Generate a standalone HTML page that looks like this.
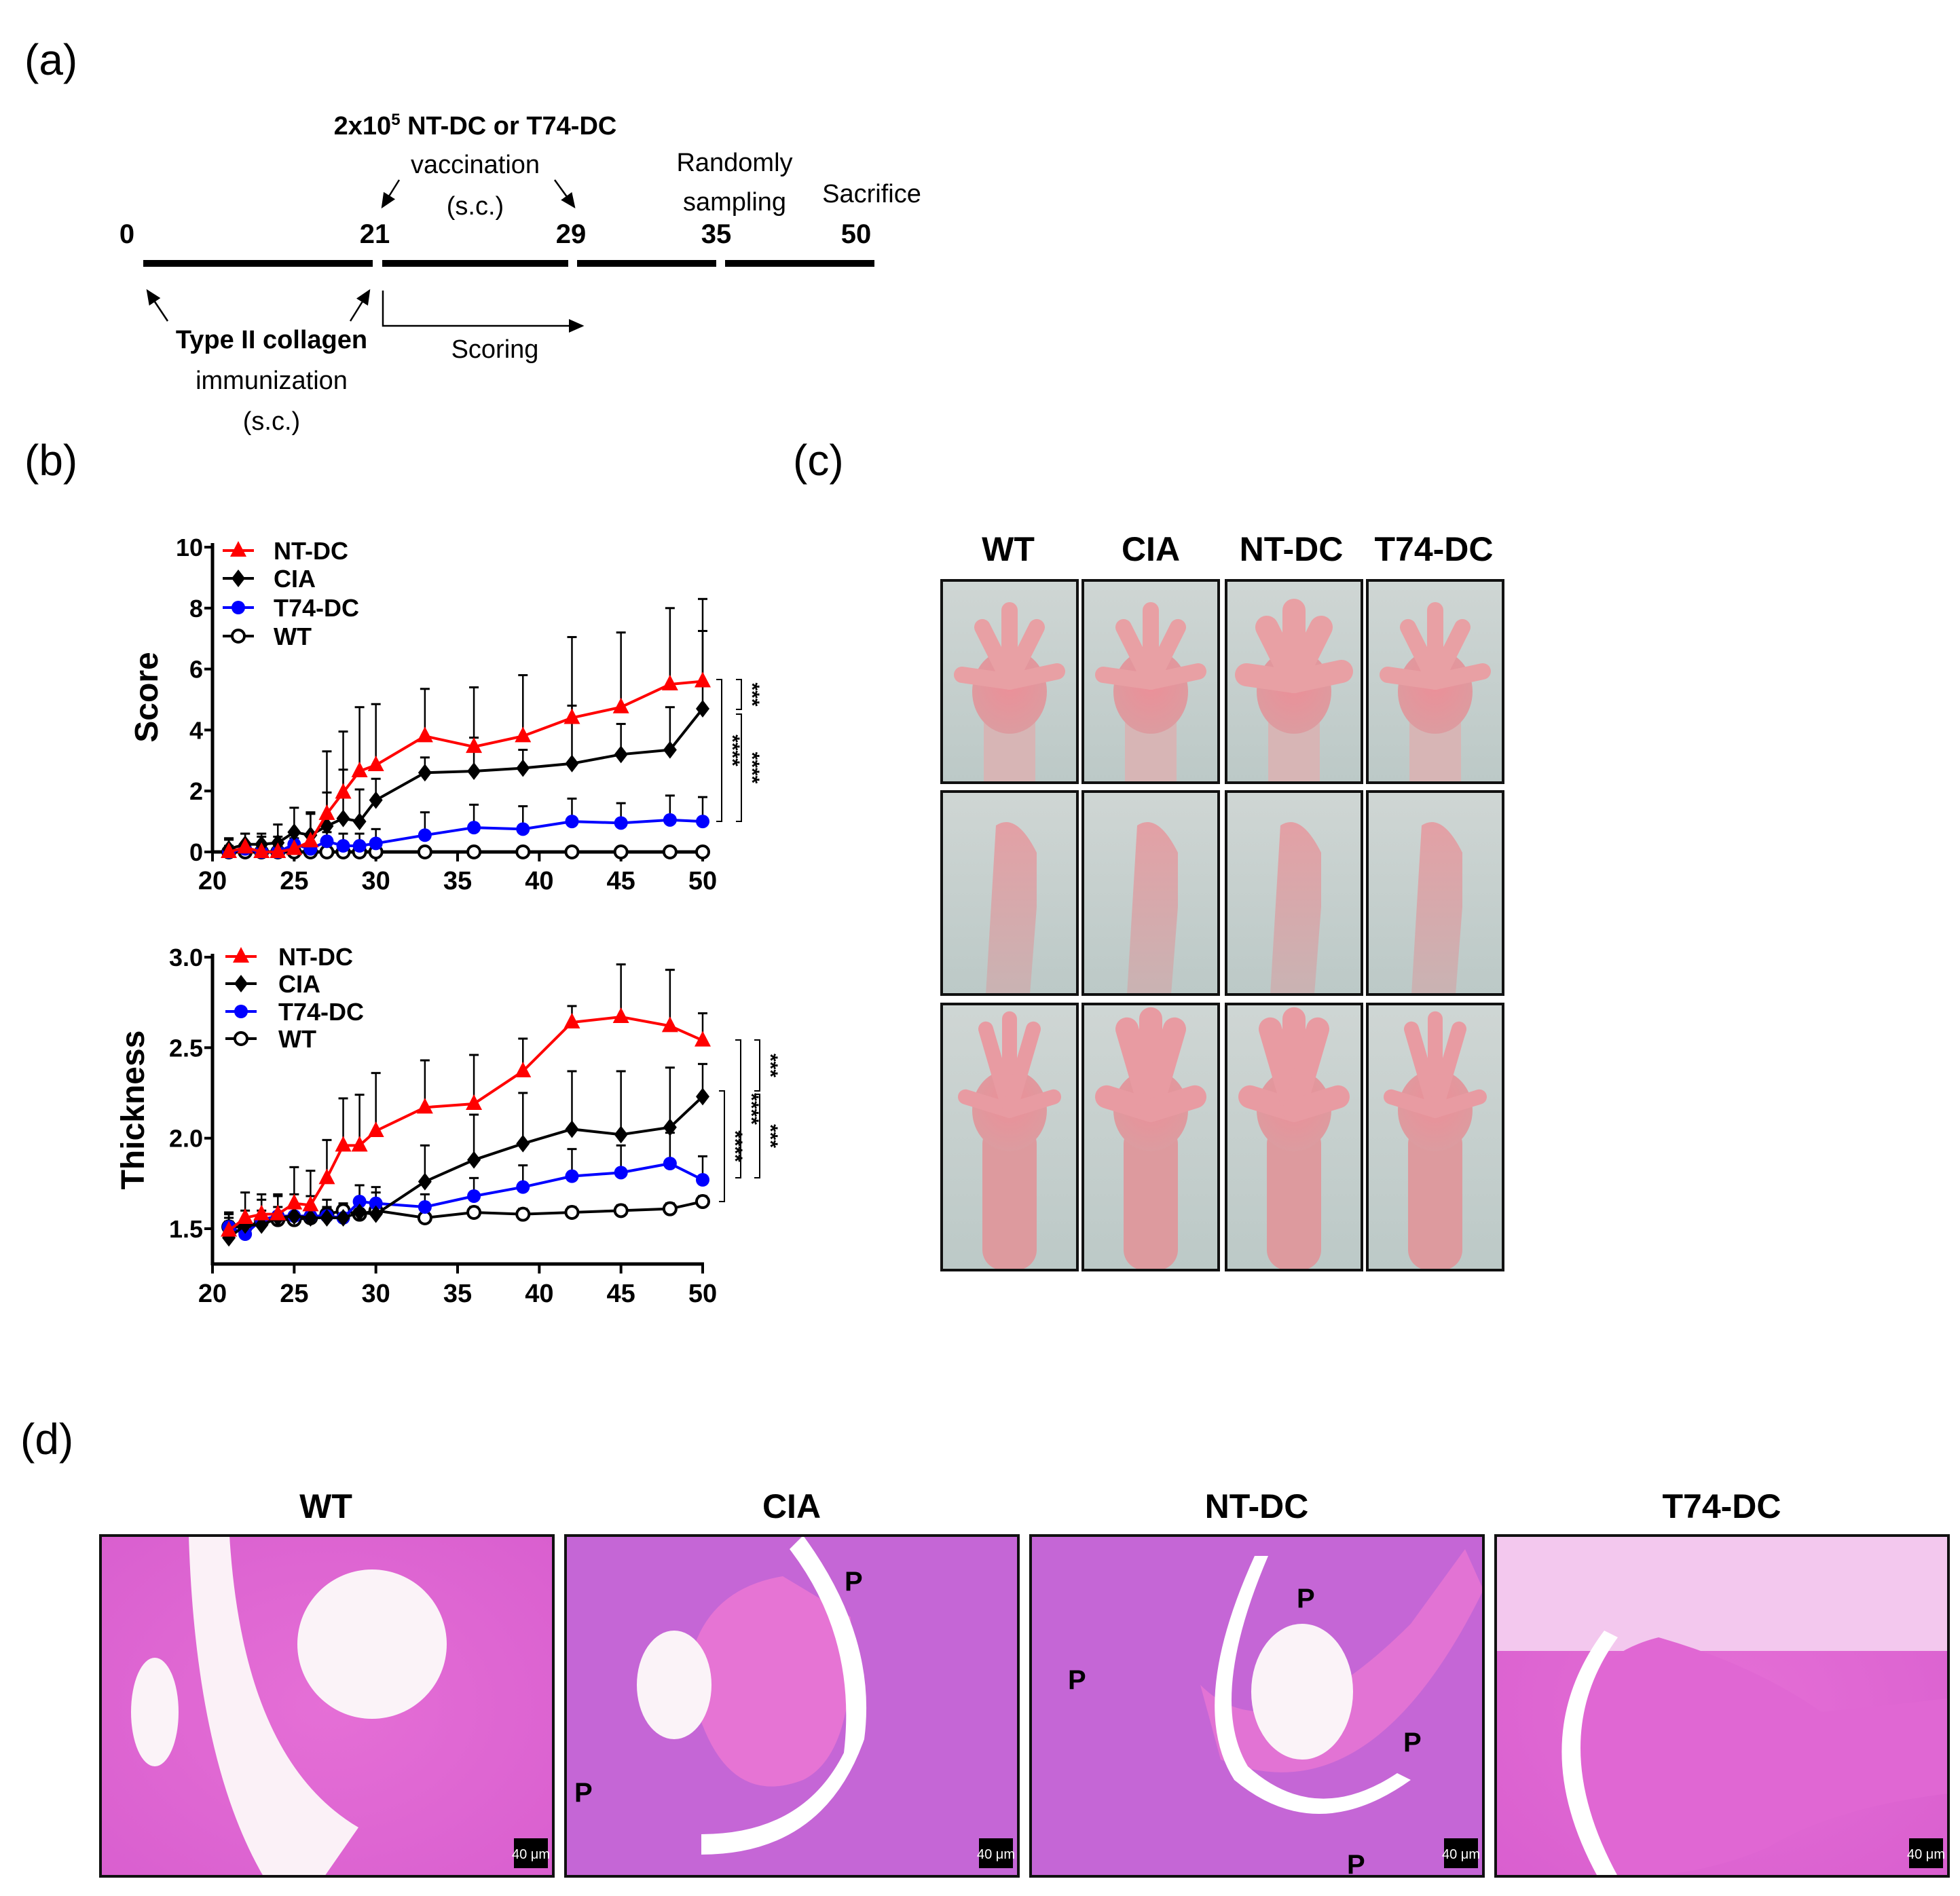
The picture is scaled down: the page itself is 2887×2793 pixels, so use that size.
<!DOCTYPE html>
<html><head><meta charset="utf-8"><style>
html,body{margin:0;padding:0;background:#fff}
svg{display:block}
text{font-family:"Liberation Sans",Arial,sans-serif}
</style></head><body>
<svg id="root" width="2887" height="2793" viewBox="0 0 2887 2793" xmlns="http://www.w3.org/2000/svg">
<defs>
<marker id="ah" markerWidth="10" markerHeight="10" refX="8" refY="5" orient="auto"><path d="M0,1 L9,5 L0,9 z" fill="#000"/></marker>
<linearGradient id="bgPhoto" x1="0" y1="0" x2="0" y2="1"><stop offset="0" stop-color="#cfd6d4"/><stop offset="1" stop-color="#bcc9c7"/></linearGradient>
<radialGradient id="pawG" cx="0.5" cy="0.4" r="0.6"><stop offset="0" stop-color="#ec8f98"/><stop offset="1" stop-color="#dc9ca0"/></radialGradient>
<linearGradient id="legG" x1="0" y1="0" x2="0" y2="1"><stop offset="0" stop-color="#e3a0a5"/><stop offset="1" stop-color="#c9b3b3"/></linearGradient>
<radialGradient id="heG" cx="0.5" cy="0.5" r="0.7"><stop offset="0" stop-color="#e56fd6"/><stop offset="1" stop-color="#d95fcf"/></radialGradient>
</defs>

<g>
<text x="36" y="110" font-size="64">(a)</text>
<text x="700" y="198" font-size="38" font-weight="bold" text-anchor="middle">2x10<tspan dy="-14" font-size="24">5</tspan><tspan dy="14"> NT-DC or T74-DC</tspan></text>
<text x="700" y="255" font-size="38" text-anchor="middle">vaccination</text>
<text x="700" y="316" font-size="38" text-anchor="middle">(s.c.)</text>
<line x1="588" y1="265" x2="563" y2="305" stroke="#000" stroke-width="2.5" marker-end="url(#ah)"/>
<line x1="817" y1="265" x2="846" y2="305" stroke="#000" stroke-width="2.5" marker-end="url(#ah)"/>
<text x="1082" y="252" font-size="38" text-anchor="middle">Randomly</text>
<text x="1082" y="310" font-size="38" text-anchor="middle">sampling</text>
<text x="1284" y="298" font-size="38" text-anchor="middle">Sacrifice</text>
<g font-size="40" font-weight="bold" text-anchor="middle">
<text x="187" y="358">0</text><text x="552" y="358">21</text><text x="841" y="358">29</text><text x="1055" y="358">35</text><text x="1261" y="358">50</text>
</g>
<g fill="#000">
<rect x="211" y="383" width="338" height="10"/><rect x="563" y="383" width="274" height="10"/><rect x="850" y="383" width="205" height="10"/><rect x="1068" y="383" width="220" height="10"/>
</g>
<line x1="247" y1="473" x2="217" y2="428" stroke="#000" stroke-width="2.5" marker-end="url(#ah)"/>
<line x1="516" y1="473" x2="544" y2="428" stroke="#000" stroke-width="2.5" marker-end="url(#ah)"/>
<polyline points="564,428 564,480 858,480" fill="none" stroke="#000" stroke-width="2.5" marker-end="url(#ah)"/>
<text x="400" y="513" font-size="38" font-weight="bold" text-anchor="middle">Type II collagen</text>
<text x="400" y="573" font-size="38" text-anchor="middle">immunization</text>
<text x="400" y="633" font-size="38" text-anchor="middle">(s.c.)</text>
<text x="729" y="527" font-size="38" text-anchor="middle">Scoring</text>
</g>

<text x="36" y="700" font-size="64">(b)</text>
<text x="1168" y="700" font-size="64">(c)</text>
<text x="30" y="2142" font-size="64">(d)</text>

<g id="scoreChart"></g>
<g id="thickChart"></g>
<g id="photos"></g>
<g id="histo"></g>
</svg>
<script>
const days = [21,22,23,24,25,26,27,28,29,30,33,36,39,42,45,48,50];
const xTicks = [20,25,30,35,40,45,50];
const scoreTicks = [0,2,4,6,8,10];
const thickTicks = [1.5,2.0,2.5,3.0];
const thickTickLabels = ["1.5","2.0","2.5","3.0"];
const groups = ["NT-DC","CIA","T74-DC","WT"];
const scoreNT  = [0,0.15,0,0,0.1,0.35,1.25,1.95,2.65,2.85,3.8,3.45,3.8,4.4,4.75,5.5,5.6];
const scoreCIA = [0.1,0.25,0.25,0.3,0.65,0.55,0.85,1.1,1.0,1.7,2.6,2.65,2.75,2.9,3.2,3.35,4.7];
const scoreT74 = [0,0.1,0,0,0.25,0.1,0.35,0.2,0.2,0.28,0.55,0.8,0.75,1.0,0.95,1.05,1.0];
const scoreWT  = [0,0,0,0,0,0,0,0,0,0,0,0,0,0,0,0,0];
const scoreNTsd  = [0.4,0.45,0.5,0.5,0.5,0.9,2.05,2.0,2.1,2.0,1.55,1.95,2.0,2.65,2.45,2.5,2.7];
const scoreCIAsd = [0.35,0.35,0.35,0.6,0.8,0.75,1.1,1.6,1.05,0.7,0.5,1.1,0.6,1.9,1.0,1.4,2.55];
const scoreT74sd = [0.2,0.2,0.2,0.2,0.2,0.2,0.3,0.4,0.4,0.47,0.75,0.75,0.75,0.75,0.65,0.8,0.8];
const scoreWTsd  = [0,0,0,0,0,0,0,0,0,0,0,0,0,0,0,0,0];
const thNT  = [1.49,1.56,1.58,1.58,1.64,1.63,1.78,1.96,1.96,2.04,2.17,2.19,2.37,2.64,2.67,2.62,2.54];
const thCIA = [1.45,1.52,1.52,1.56,1.57,1.56,1.56,1.56,1.59,1.58,1.76,1.88,1.97,2.05,2.02,2.06,2.23];
const thT74 = [1.51,1.47,1.55,1.57,1.57,1.57,1.57,1.56,1.65,1.64,1.62,1.68,1.73,1.79,1.81,1.86,1.77];
const thWT  = [1.51,1.51,1.54,1.55,1.55,1.56,1.58,1.60,1.58,1.60,1.56,1.59,1.58,1.59,1.60,1.61,1.65];
const thNTsd  = [0.09,0.14,0.11,0.11,0.20,0.19,0.21,0.26,0.28,0.32,0.26,0.27,0.18,0.09,0.29,0.31,0.15];
const thCIAsd = [0.14,0.08,0.14,0.12,0.12,0.12,0.1,0.08,0.15,0.12,0.20,0.25,0.28,0.32,0.35,0.33,0.18];
const thT74sd = [0.05,0.05,0.05,0.05,0.05,0.05,0.05,0.05,0.09,0.09,0.07,0.1,0.12,0.15,0.15,0.17,0.13];
const thWTsd  = [0.03,0.03,0.03,0.03,0.03,0.03,0.03,0.03,0.03,0.03,0.03,0.03,0.03,0.03,0.03,0.03,0.03];

const NS="http://www.w3.org/2000/svg";
function mk(tag,attrs,parent){const e=document.createElementNS(NS,tag);for(const k in attrs)e.setAttribute(k,attrs[k]);if(parent)parent.appendChild(e);return e;}

function marker(g,type,cx,cy,color){
  let e;
  if(type==="tri"){e=mk("polygon",{points:`${cx},${cy-14} ${cx-12},${cy+9} ${cx+12},${cy+9}`,fill:color},g);}
  else if(type==="dia"){e=mk("polygon",{points:`${cx},${cy-13} ${cx+10},${cy} ${cx},${cy+13} ${cx-10},${cy}`,fill:color},g);}
  else if(type==="dot"){e=mk("circle",{cx:cx,cy:cy,r:10,fill:color},g);}
  else {e=mk("circle",{cx:cx,cy:cy,r:9,fill:"#fff",stroke:color,"stroke-width":4},g);}
  return e;
}

function drawChart(gid,cfg){
  const g=document.getElementById(gid);
  const X=v=>cfg.x0+(v-20)*(cfg.x1-cfg.x0)/30;
  const Y=v=>cfg.yb+(v-cfg.vb)*(cfg.yt-cfg.yb)/(cfg.vt-cfg.vb);
  const series=cfg.series;
  series.forEach(s=>{
    const eg=mk("g",{},g);
    
    
    days.forEach((d,i)=>{
      if(s.sd[i]<=0) return;
      const x=X(d),y0=Y(s.vals[i]),y1=Y(s.vals[i]+s.sd[i]);
      mk("line",{x1:x,y1:y0,x2:x,y2:y1,stroke:"#000","stroke-width":2.5},eg);
      mk("line",{x1:x-7,y1:y1,x2:x+7,y2:y1,stroke:"#000","stroke-width":3},eg);
    });
  });
  const ax=mk("g",{},g);
  
  
  mk("line",{x1:cfg.x0,y1:cfg.yAxisTop,x2:cfg.x0,y2:cfg.xAxisY+2,stroke:"#000","stroke-width":5},ax);
  cfg.yTicks.forEach((t,i)=>{
    mk("line",{x1:cfg.x0-12,y1:Y(t),x2:cfg.x0,y2:Y(t),stroke:"#000","stroke-width":4},ax);
    const tx=mk("text",{x:cfg.x0-14,y:Y(t)+13,"font-size":36,"font-weight":"bold","text-anchor":"end"},ax);
    tx.textContent=cfg.yLabels[i];
  });
  const xa=mk("g",{},g);
  
  
  mk("line",{x1:cfg.x0-2,y1:cfg.xAxisY,x2:cfg.x1+2,y2:cfg.xAxisY,stroke:"#000","stroke-width":5},xa);
  xTicks.forEach(t=>{
    mk("line",{x1:X(t),y1:cfg.xAxisY,x2:X(t),y2:cfg.xAxisY+14,stroke:"#000","stroke-width":4},xa);
    const tx=mk("text",{x:X(t),y:cfg.xLabY,"font-size":38,"font-weight":"bold","text-anchor":"middle"},xa);
    tx.textContent=t;
  });
  const yt=mk("text",{x:0,y:0,"font-size":48,"font-weight":"bold","text-anchor":"middle",transform:`translate(${cfg.titleX},${cfg.titleY}) rotate(-90)`},g);
  yt.textContent=cfg.title;
  
  
  [...series].reverse().forEach(s=>{
    const sg=mk("g",{},g);
    
    
    const pts=days.map((d,i)=>`${X(d)},${Y(s.vals[i])}`).join(" ");
    mk("polyline",{points:pts,fill:"none",stroke:s.color,"stroke-width":4},sg);
    days.forEach((d,i)=>{
      const m=marker(sg,s.mk,X(d),Y(s.vals[i]),s.color);
      
      
    });
  });
  const lg=mk("g",{},g);
  
  
  series.forEach((s,i)=>{
    const y=cfg.legY[i];
    const eg=mk("g",{},lg);
    
    
    mk("line",{x1:cfg.legX0,y1:y,x2:cfg.legX0+46,y2:y,stroke:s.color,"stroke-width":4},eg);
    marker(eg,s.mk,cfg.legX0+23,y,s.color);
    const t=mk("text",{x:cfg.legTX,y:y+13,"font-size":36,"font-weight":"bold"},eg);
    t.textContent=s.name;
  });
  const sg=mk("g",{},g);
  
  
  cfg.sig.forEach(b=>{
    mk("polyline",{points:`${b.x-8},${b.y1} ${b.x},${b.y1} ${b.x},${b.y2} ${b.x-8},${b.y2}`,fill:"none",stroke:"#000","stroke-width":2},sg);
    const t=mk("text",{x:0,y:0,"font-size":30,"font-weight":"bold","text-anchor":"middle",transform:`translate(${b.x+6},${(b.y1+b.y2)/2}) rotate(90)`},sg);
    t.textContent=b.s;
  });
}

drawChart("scoreChart",{id:"score",x0:313,x1:1035,yb:1255,yt:806,vb:0,vt:10,yAxisTop:800,xAxisY:1255,xLabY:1310,
 yTicks:scoreTicks,yLabels:scoreTicks.map(String),title:"Score",titleX:232,titleY:1027,
 legX0:328,legTX:403,legY:[811,852,895,937],
 series:[{name:"NT-DC",vals:scoreNT,sd:scoreNTsd,color:"#ff0000",mk:"tri"},
         {name:"CIA",vals:scoreCIA,sd:scoreCIAsd,color:"#000",mk:"dia"},
         {name:"T74-DC",vals:scoreT74,sd:scoreT74sd,color:"#0000ff",mk:"dot"},
         {name:"WT",vals:scoreWT,sd:scoreWTsd,color:"#000",mk:"open"}],
 sig:[{x:1063,y1:1001,y2:1210,s:"****"},{x:1092,y1:1001,y2:1045,s:"***"},{x:1092,y1:1052,y2:1210,s:"****"}]});

drawChart("thickChart",{id:"thickness",x0:313,x1:1035,yb:1810,yt:1410,vb:1.5,vt:3.0,yAxisTop:1405,xAxisY:1862,xLabY:1918,
 yTicks:thickTicks,yLabels:thickTickLabels,title:"Thickness",titleX:212,titleY:1635,
 legX0:332,legTX:410,legY:[1409,1449,1490,1530],
 series:[{name:"NT-DC",vals:thNT,sd:thNTsd,color:"#ff0000",mk:"tri"},
         {name:"CIA",vals:thCIA,sd:thCIAsd,color:"#000",mk:"dia"},
         {name:"T74-DC",vals:thT74,sd:thT74sd,color:"#0000ff",mk:"dot"},
         {name:"WT",vals:thWT,sd:thWTsd,color:"#000",mk:"open"}],
 sig:[{x:1067,y1:1607,y2:1770,s:"****"},{x:1091,y1:1532,y2:1735,s:"****"},{x:1119,y1:1532,y2:1607,s:"***"},{x:1119,y1:1612,y2:1735,s:"***"}]});

const pawCols=["WT","CIA","NT-DC","T74-DC"];
(function(){
  const g=document.getElementById("photos");
  const cx=[1387,1595,1806,2014], cw=200;
  const rows=[[855,298],[1166,299],[1479,392]];
  const hx=[1485,1695,1902,2112];
  pawCols.forEach((c,i)=>{
    const t=mk("text",{x:hx[i],y:826,"font-size":50,"font-weight":"bold","text-anchor":"middle"},g);
    t.textContent=c;
    
    
  });
  rows.forEach((r,ri)=>{
    cx.forEach((x,ci)=>{
      const pg=mk("g",{},g);
      
      
      const y=r[0],h=r[1],m=x+cw/2;
      mk("rect",{x:x,y:y,width:cw,height:h,fill:"url(#bgPhoto)"},pg);
      if(ri===0){
        mk("rect",{x:m-38,y:y+h*0.62,width:76,height:h*0.38,fill:"#d7b5b5"},pg);
        mk("ellipse",{cx:m,cy:y+h*0.55,rx:55,ry:62,fill:"url(#pawG)"},pg);
        [[-70,-10],[-40,-80],[0,-105],[40,-80],[70,-15]].forEach(f=>{
          mk("line",{x1:m,y1:y+h*0.5,x2:m+f[0],y2:y+h*0.5+f[1],stroke:"#e8a0a4","stroke-width":ci==2?34:24,"stroke-linecap":"round"},pg);
        });
      } else if(ri===1){
        mk("path",{d:`M${m-35},${y+h} L${m-20},${y+50} Q${m+10},${y+30} ${m+40},${y+90} L${m+40},${y+170} L${m+30},${y+h} Z`,fill:"url(#legG)"},pg);
      } else {
        mk("rect",{x:m-40,y:y+h*0.45,width:80,height:h*0.55,fill:"#dd9a9e",rx:30},pg);
        mk("ellipse",{cx:m,cy:y+h*0.4,rx:55,ry:60,fill:"url(#pawG)"},pg);
        [[-65,-20],[-35,-120],[0,-135],[35,-120],[65,-20]].forEach(f=>{
          mk("line",{x1:m,y1:y+h*0.4,x2:m+f[0],y2:y+h*0.4+f[1],stroke:"#e89ba2","stroke-width":ci==1||ci==2?34:22,"stroke-linecap":"round"},pg);
        });
      }
      mk("rect",{x:x,y:y,width:cw,height:h,fill:"none",stroke:"#111","stroke-width":4},pg);
    });
  });
})();

(function(){
  const g=document.getElementById("histo");
  const xs=[148,833,1518,2203], w=667, y=2262, h=502;
  const hx=[480,1166,1851,2536];
  pawCols.forEach((c,i)=>{
    const t=mk("text",{x:hx[i],y:2236,"font-size":50,"font-weight":"bold","text-anchor":"middle"},g);
    t.textContent=c;
    
    
    const pg=mk("g",{},g);
    
    
    const x=xs[i];
    mk("rect",{x:x,y:y,width:w,height:h,fill:i===1||i===2?"#c566d6":"url(#heG)"},pg);
    if(i===0){
      mk("ellipse",{cx:x+400,cy:y+160,rx:110,ry:110,fill:"#fbf3f8"},pg);
      mk("path",{d:`M${x+130},${y} L${x+190},${y} Q${x+210},${y+330} ${x+380},${y+430} L${x+330},${y+h} L${x+240},${y+h} Q${x+140},${y+330} ${x+130},${y}`,fill:"#fbf1f7"},pg);
      mk("ellipse",{cx:x+80,cy:y+260,rx:35,ry:80,fill:"#fbf3f8"},pg);
    } else if(i===1){
      mk("path",{d:`M${x+320},${y+60} Q${x+200},${y+80} ${x+180},${y+200} Q${x+220},${y+410} ${x+350},${y+360} Q${x+430},${y+320} ${x+420},${y+120} Z`,fill:"#e674d4"},pg);
      mk("ellipse",{cx:x+160,cy:y+220,rx:55,ry:80,fill:"#fbf3f8"},pg);
      mk("path",{d:`M${x+330},${y+20} Q${x+430},${y+150} ${x+410},${y+320} Q${x+350},${y+440} ${x+200},${y+440} L${x+200},${y+470} Q${x+380},${y+470} ${x+440},${y+300} Q${x+460},${y+150} ${x+350},${y}`,fill:"#fff"},pg);
    } else if(i===2){
      mk("path",{d:`M${x+250},${y+220} Q${x+360},${y+330} ${x+560},${y+130} L${x+640},${y+20} L${x+667},${y+80} Q${x+500},${y+420} ${x+280},${y+330} Z`,fill:"#e273d4"},pg);
      mk("ellipse",{cx:x+400,cy:y+230,rx:75,ry:100,fill:"#fbf3f8"},pg);
      mk("path",{d:`M${x+330},${y+30} Q${x+230},${y+250} ${x+300},${y+360} Q${x+420},${y+460} ${x+560},${y+360} L${x+540},${y+350} Q${x+420},${y+430} ${x+320},${y+340} Q${x+260},${y+240} ${x+350},${y+30} Z`,fill:"#fff"},pg);
    } else {
      mk("rect",{x:x,y:y,width:w,height:170,fill:"#f3c8ee"},pg);
      mk("path",{d:`M${x+150},${y+h} Q${x+40},${y+200} ${x+240},${y+150} Q${x+380},${y+190} ${x+480},${y+260} L${x+667},${y+240} L${x+667},${y+380} Q${x+500},${y+400} ${x+400},${y+460} Q${x+300},${y+h} ${x+200},${y+h} Z`,fill:"#e067d3"},pg);
      mk("path",{d:`M${x+180},${y+h} Q${x+70},${y+300} ${x+180},${y+150} L${x+160},${y+140} Q${x+40},${y+300} ${x+150},${y+h} Z`,fill:"#fff"},pg);
    }
    mk("rect",{x:x+w-58,y:y+h-56,width:50,height:44,fill:"#000"},pg);
    const sb=mk("text",{x:x+w-33,y:y+h-26,"font-size":20,fill:"#fff","text-anchor":"middle"},pg);
    sb.textContent="40 μm";
    mk("rect",{x:x,y:y,width:w,height:h,fill:"none",stroke:"#111","stroke-width":4},pg);
  });
  [[1244,2343],[846,2654],[1910,2368],[1573,2488],[2067,2580],[1984,2760]].forEach((p,i)=>{
    const t=mk("text",{x:p[0],y:p[1],"font-size":40,"font-weight":"bold"},g);
    t.textContent="P";
    
    
  });
})();
</script>
</body></html>
